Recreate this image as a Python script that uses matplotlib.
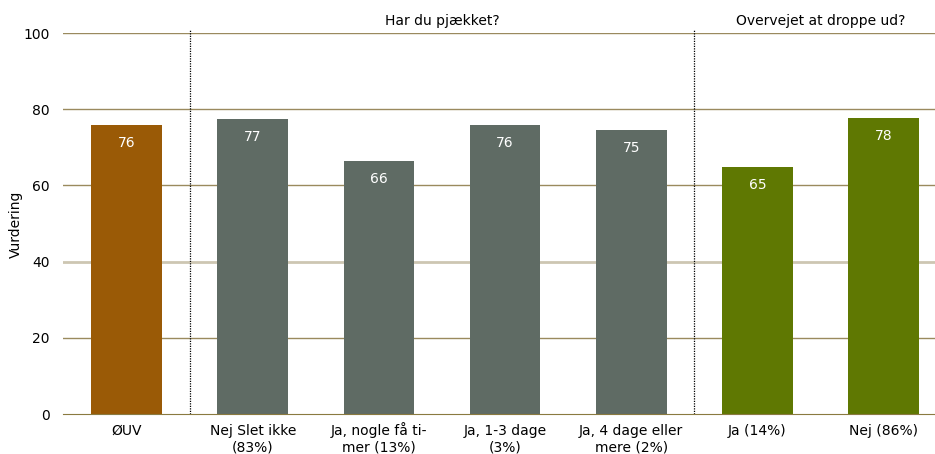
import matplotlib
matplotlib.use("Agg")
import matplotlib.pyplot as plt
import numpy as np

# data
categories = ["ØUV", "Nej Slet ikke\n(83%)", "Ja, nogle få ti-\nmer (13%)", "Ja, 1-3 dage\n(3%)",
              "Ja, 4 dage eller\nmere (2%)", "Ja (14%)", "Nej (86%)"]
values = [75.9, 77.4, 66.4, 75.9, 74.6, 64.8, 77.6]
colors = ["#9a5a06", "#5f6b64", "#5f6b64", "#5f6b64", "#5f6b64", "#5f7802", "#5f7802"]
yticks = [0, 20, 40, 60, 80, 100]
groups = ["Har du pjækket?", "Overvejet at droppe ud?"]

plt.rcParams['font.family'] = ['DejaVu Sans']
fig = plt.figure(figsize=(9.35, 4.54), dpi=100)
ax = fig.add_axes([0.0678, 0.0881, 0.9448, 0.839])

x = np.arange(len(categories))
bars = ax.bar(x, values, width=0.56, color=colors, zorder=3)
for b, v in zip(bars, values):
    ax.text(b.get_x() + b.get_width() / 2, v - 2.8, '%.0f' % v, ha='center', va='top',
            color='white', fontsize=10, zorder=4)

# gitterlinjer
for t in yticks[1:]:
    if t == 40:
        ax.axhline(t, color='#cdc6b2', linewidth=2, zorder=1)
    else:
        ax.axhline(t, color='#9a8a5e', linewidth=1, zorder=1)

# skillelinjer
for d in [0.5, 4.5]:
    ax.axvline(d, ymin=0, ymax=1.01, color='black', linestyle=(0, (1, 1)), linewidth=0.9,
               clip_on=False, zorder=2)

ax.text(2.5, 101.4, groups[0], ha='center', va='bottom', fontsize=10)
ax.text(5.5, 101.4, groups[1], ha='center', va='bottom', fontsize=10)

ax.set_xlim(-0.5, 6.5)
ax.set_ylim(0, 100)
ax.set_yticks(yticks)
ax.set_xticks(x)
ax.set_xticklabels([''] * len(categories))
# kategorinavne, linje for linje (samme grundlinje)
trans = ax.get_xaxis_transform()
for xi, lab in zip(x, categories):
    for j, line in enumerate(lab.split('\n')):
        ax.text(xi, -0.0551 - j * 0.0446, line, ha='center', va='baseline', fontsize=10,
                transform=trans, clip_on=False)
ax.tick_params(axis='both', length=0, labelsize=10)
ax.tick_params(axis='y', pad=10)
for s in ['top', 'right', 'left']:
    ax.spines[s].set_visible(False)
ax.spines['bottom'].set_color('#8a7a40')
ax.spines['bottom'].set_zorder(5)

fig.text(16 / 935, 1 - 224 / 454, 'Vurdering', rotation=90, ha='center', va='center', fontsize=10)

plt.savefig("out.png", dpi=100)
